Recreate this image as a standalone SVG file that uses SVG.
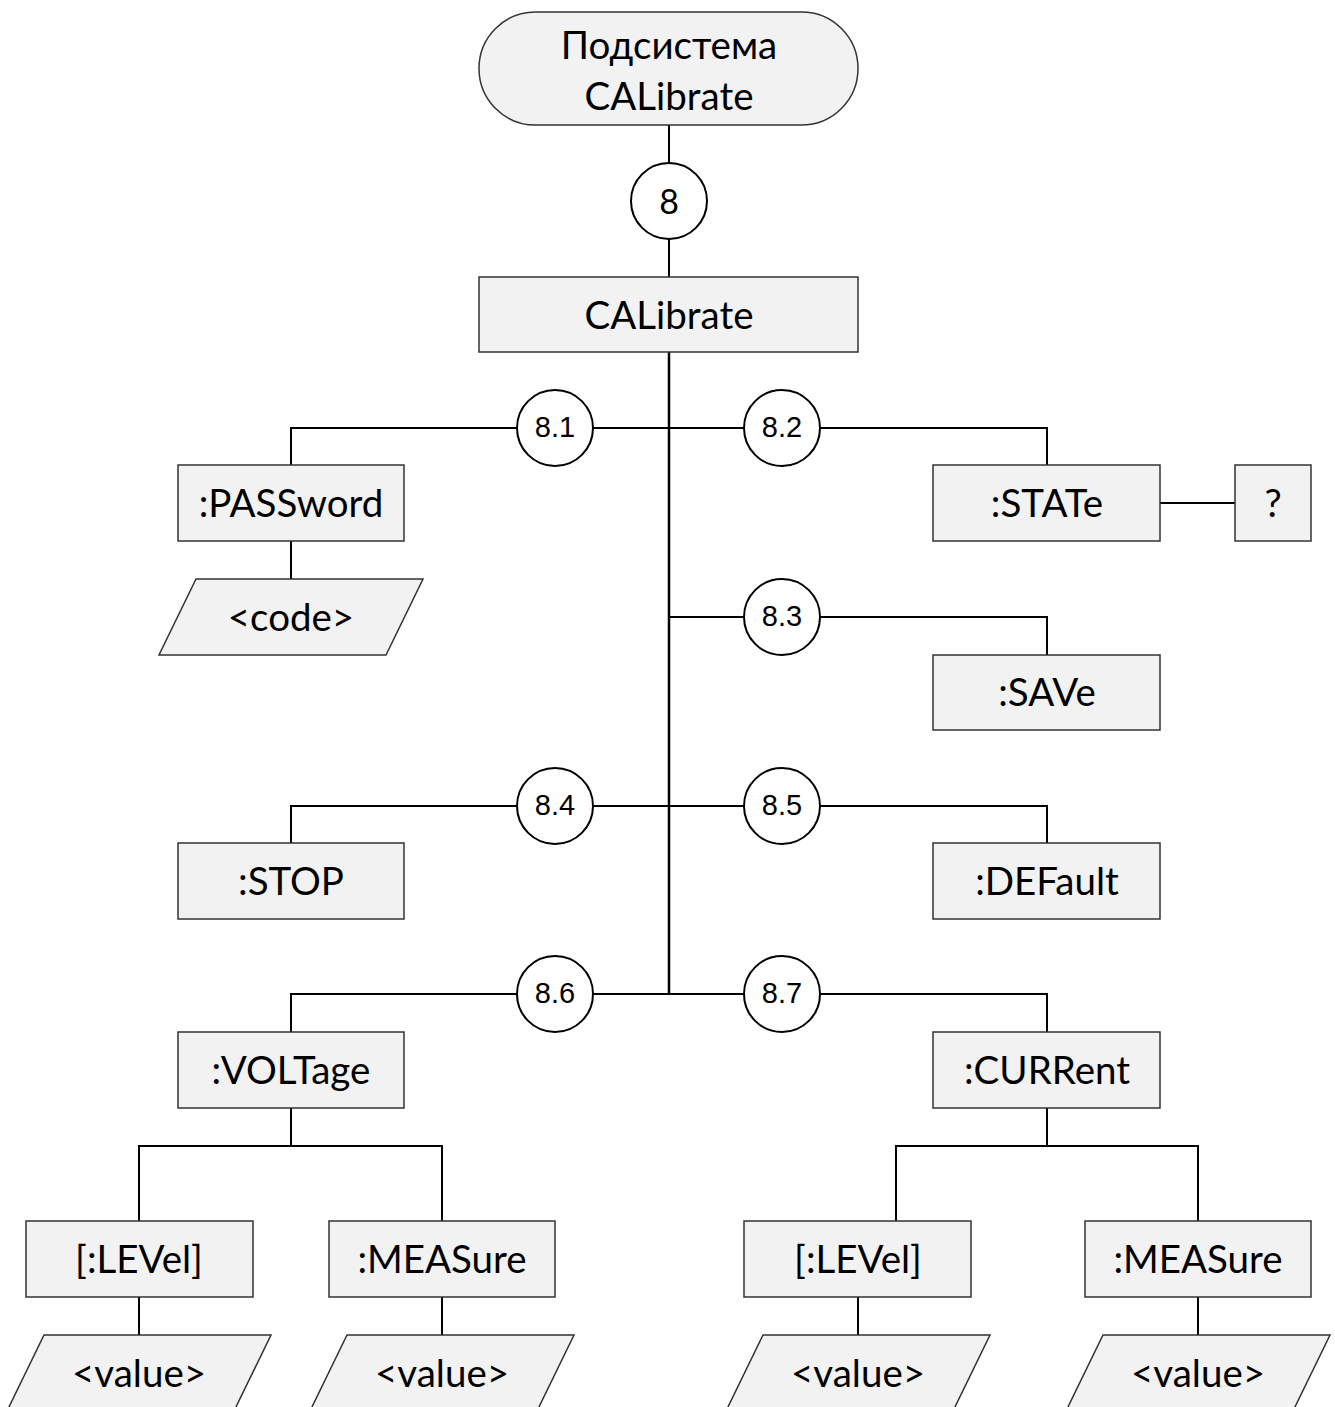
<svg xmlns="http://www.w3.org/2000/svg" width="1335" height="1407" viewBox="0 0 1335 1407">
<style>
.box{fill:#f2f2f2;stroke:#333;stroke-width:1.5}
.circ{fill:#fff;stroke:#000;stroke-width:2}
.ln{fill:none;stroke:#000;stroke-width:2}
.t{font-family:Lato,"Open Sans",sans-serif;font-size:38.5px;fill:#000;text-anchor:middle;dominant-baseline:central}
.n{font-family:"Liberation Sans",Arial,sans-serif;font-size:29px;fill:#000;text-anchor:middle;dominant-baseline:central}
</style>
<rect width="1335" height="1407" fill="#fff"/>
<g id="connectors" class="ln">
<path d="M669 125V163M669 239V277"/>
<path d="M669 352V994" stroke-width="2.5"/>
<path d="M291 465V428H1047V465"/>
<path d="M291 541V579"/>
<path d="M1160 503H1235"/>
<path d="M669 617H1047V655"/>
<path d="M291 843V806H1047V843"/>
<path d="M291 1032V994H1047V1032"/>
<path d="M291 1108V1146M139 1221V1146H442V1221"/>
<path d="M139 1297V1335M442 1297V1335"/>
<path d="M1047 1108V1146M896 1221V1146H1198V1221"/>
<path d="M858 1297V1335M1198 1297V1335"/>
</g>
<g id="root"><rect class="box" x="479" y="12" width="379" height="113" rx="56.5"/><text class="t" x="669" y="44">Подсистема</text><text class="t" x="669" y="95">CALibrate</text></g>
<g id="c8"><circle class="circ" cx="669" cy="201" r="38"/><text class="t" x="669" y="200" style="font-size:34px">8</text></g>
<g id="calibrate"><rect class="box" x="479" y="277" width="379" height="75"/><text class="t" x="669" y="314">CALibrate</text></g>
<g id="c81"><circle class="circ" cx="555" cy="428" r="38"/><text class="n" x="555" y="427">8.1</text></g>
<g id="c82"><circle class="circ" cx="782" cy="428" r="38"/><text class="n" x="782" y="427">8.2</text></g>
<g id="c83"><circle class="circ" cx="782" cy="617" r="38"/><text class="n" x="782" y="616">8.3</text></g>
<g id="c84"><circle class="circ" cx="555" cy="806" r="38"/><text class="n" x="555" y="805">8.4</text></g>
<g id="c85"><circle class="circ" cx="782" cy="806" r="38"/><text class="n" x="782" y="805">8.5</text></g>
<g id="c86"><circle class="circ" cx="555" cy="994" r="38"/><text class="n" x="555" y="993">8.6</text></g>
<g id="c87"><circle class="circ" cx="782" cy="994" r="38"/><text class="n" x="782" y="993">8.7</text></g>
<g id="password"><rect class="box" x="178" y="465" width="226" height="76"/><text class="t" x="291" y="502">:PASSword</text></g>
<g id="code"><polygon class="box" points="196,579 423,579 386,655 159,655"/><text class="t" x="291" y="616">&lt;code&gt;</text></g>
<g id="state"><rect class="box" x="933" y="465" width="227" height="76"/><text class="t" x="1047" y="502">:STATe</text></g>
<g id="query"><rect class="box" x="1235" y="465" width="76" height="76"/><text class="t" x="1273" y="502">?</text></g>
<g id="save"><rect class="box" x="933" y="655" width="227" height="75"/><text class="t" x="1047" y="691">:SAVe</text></g>
<g id="stop"><rect class="box" x="178" y="843" width="226" height="76"/><text class="t" x="291" y="880">:STOP</text></g>
<g id="default"><rect class="box" x="933" y="843" width="227" height="76"/><text class="t" x="1047" y="880">:DEFault</text></g>
<g id="voltage"><rect class="box" x="178" y="1032" width="226" height="76"/><text class="t" x="291" y="1069">:VOLTage</text></g>
<g id="current"><rect class="box" x="933" y="1032" width="227" height="76"/><text class="t" x="1047" y="1069">:CURRent</text></g>
<g id="vlevel"><rect class="box" x="26" y="1221" width="227" height="76"/><text class="t" x="139" y="1258">[:LEVel]</text></g>
<g id="vmeasure"><rect class="box" x="329" y="1221" width="226" height="76"/><text class="t" x="442" y="1258">:MEASure</text></g>
<g id="clevel"><rect class="box" x="744" y="1221" width="227" height="76"/><text class="t" x="858" y="1258">[:LEVel]</text></g>
<g id="cmeasure"><rect class="box" x="1085" y="1221" width="226" height="76"/><text class="t" x="1198" y="1258">:MEASure</text></g>
<g id="vlevelval"><polygon class="box" points="44,1335 271,1335 234,1411 7,1411"/><text class="t" x="139" y="1372">&lt;value&gt;</text></g>
<g id="vmeasval"><polygon class="box" points="347,1335 574,1335 537,1411 310,1411"/><text class="t" x="442" y="1372">&lt;value&gt;</text></g>
<g id="clevelval"><polygon class="box" points="763,1335 990,1335 953,1411 726,1411"/><text class="t" x="858" y="1372">&lt;value&gt;</text></g>
<g id="cmeasval"><polygon class="box" points="1103,1335 1330,1335 1293,1411 1066,1411"/><text class="t" x="1198" y="1372">&lt;value&gt;</text></g>
</svg>
